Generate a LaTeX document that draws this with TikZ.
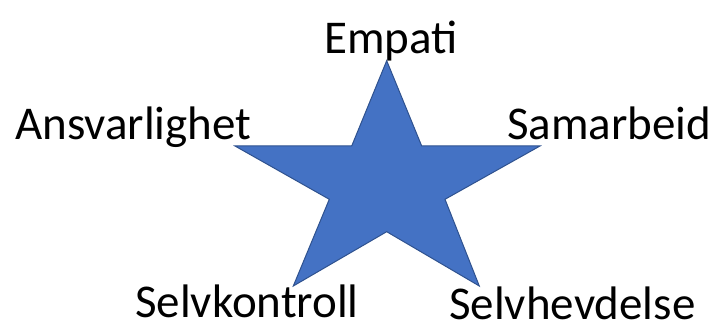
\documentclass[tikz,border=0pt]{standalone}
\usepackage{fontspec}
\setmainfont{Carlito}
\usepackage{tikz}
\usetikzlibrary{calc,positioning}
\definecolor{starfill}{HTML}{4472C4}
\definecolor{starline}{HTML}{2F528F}
\tikzset{lbl/.style={inner sep=0pt,anchor=base,font=\fontsize{47}{51}\selectfont}}

\begin{document}
\begin{tikzpicture}[x=1pt,y=1pt]
	%\draw[color=gray,step=10pt, help lines,opacity=0.3] (0,0) grid (715,324); %help grids
	\useasboundingbox (0,0) rectangle (715,324);
	% the star
	\draw[fill=starfill,draw=starline,line width=1pt,line join=miter]
		(386.7,263.3)--(421.7,178)--(540,178)--(445,124.7)--(479.3,38)
		--(386.7,92.3)--(293.3,38)--(329.3,124.7)--(235,178)--(351.7,178)--cycle;
	% labels
	\node[lbl] (empati) at (391,270.7) {Empati};
	\node[lbl] (ansvar) at (133.3,184) {Ansvarlighet};
	\node[lbl] (samarbeid) at (609.2,184) {Samarbeid};
	\node[lbl] (selvkontroll) at (247,6) {Selvkontroll};
	\node[lbl] (selvhevdelse) at (572.3,5) {Selvhevdelse};
\end{tikzpicture}
\end{document}
